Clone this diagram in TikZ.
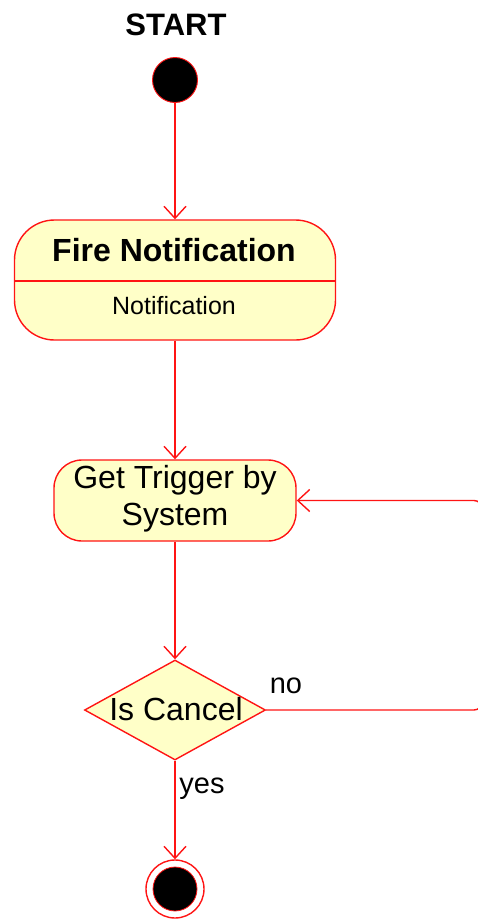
\documentclass[tikz,border=0pt]{standalone}
\usepackage{fontspec}
\setmainfont{Liberation Sans}
\usetikzlibrary{arrows.meta,shapes.geometric}
\definecolor{umlred}{RGB}{255,20,20}
\definecolor{umlfill}{RGB}{255,255,200}
\begin{document}
\begin{tikzpicture}[x=1pt,y=-1pt,
  line/.style={draw=umlred,line width=1.4pt},
  arr/.style={line,-{Straight Barb[length=12pt,width=22pt,line width=1.4pt]}},
  state/.style={line,fill=umlfill,inner sep=0pt,align=center},
  maintext/.style={font=\fontsize{32}{37}\selectfont,inner sep=0pt,align=center},
  lbl/.style={font=\fontsize{29}{32}\selectfont,inner sep=0pt}
]
\useasboundingbox (0,0) rectangle (477,919);

\node[font=\bfseries\fontsize{31}{32}\selectfont,inner sep=0pt] (title) at (176,25) {START};
\node[circle,fill=black,draw=umlred,line width=0.9pt,minimum size=45pt,inner sep=0pt] (start) at (175,80) {};

\node[state,rounded corners=40pt,minimum width=321pt,minimum height=120pt] (fire) at (175,280) {};
\coordinate (divy) at (0,281);
\draw[line] (fire.west |- divy) -- (fire.east |- divy);
\node[font=\bfseries\fontsize{32}{34}\selectfont,inner sep=0pt] (firet) at (174,250) {Fire Notification};
\node[font=\fontsize{25}{28}\selectfont,inner sep=0pt] (fires) at (174,306) {Notification};

\node[state,rounded corners=28pt,minimum width=242pt,minimum height=81pt] (trig) at (175,500.5) {};
\node[maintext] (trigt) at (175,499) {Get Trigger by\\System};

\node[diamond,line,fill=umlfill,inner sep=0pt,minimum width=181pt,minimum height=100pt] (cancel) at (175,710) {};
\node[maintext] (cancelt) at (176,709) {Is Cancel};

\node[circle,draw=umlred,line width=1.4pt,minimum size=58pt,inner sep=0pt] (end) at (175,889) {};
\node[circle,fill=black,draw=umlred,line width=0.8pt,minimum size=44pt,inner sep=0pt] (endin) at (end.center) {};

\coordinate (loop) at (482,600);

\draw[arr] (start) -- (fire);
\draw[arr] (fire) -- (trig);
\draw[arr] (trig) -- (cancel);
\draw[arr] (cancel) -- (end);
\draw[arr,rounded corners=8pt] (cancel.east) -| (loop) |- (trig.east);

\node[lbl] (no) at (286,686) {no};
\node[lbl] (yes) at (202,789) {yes};
\end{tikzpicture}
\end{document}
